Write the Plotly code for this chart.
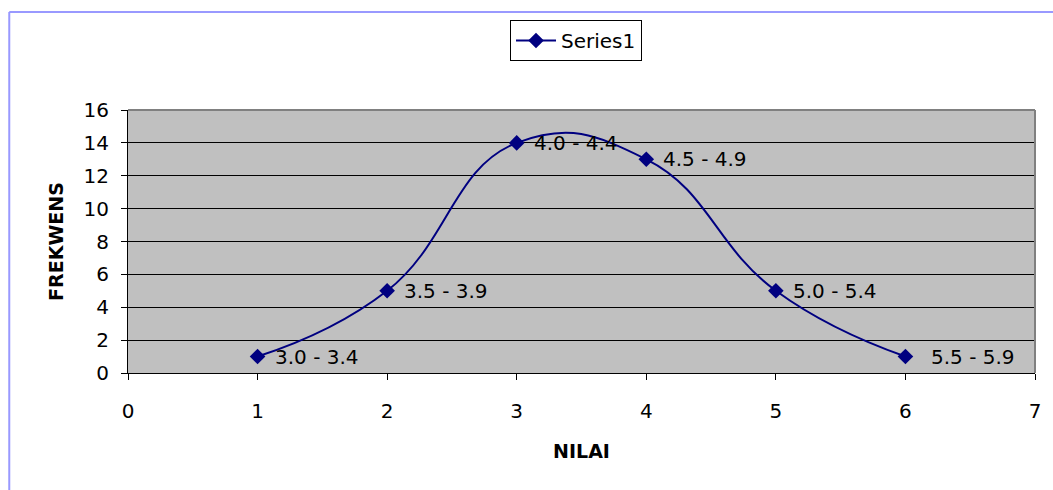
import plotly.graph_objects as go

# Class number, frequency and score interval per class
kelas = [1, 2, 3, 4, 5, 6]
frekwensi = [1, 5, 14, 13, 5, 1]
interval = ["3.0 - 3.4", "3.5 - 3.9", "4.0 - 4.4", "4.5 - 4.9", "5.0 - 5.4", "5.5 - 5.9"]

navy = "#000080"
font = dict(family="DejaVu Sans, Arial, sans-serif", size=20, color="black")
title_font = dict(family="DejaVu Sans, Arial, sans-serif", size=19, color="black")

fig = go.Figure()
fig.add_trace(go.Scatter(
    x=kelas, y=frekwensi, mode="lines+markers", name="Series1",
    line=dict(color=navy, width=2, shape="spline", smoothing=1.3),
    marker=dict(symbol="diamond", size=12, color=navy),
))

# Interval labels to the right of each point
for i, (xv, yv, t) in enumerate(zip(kelas, frekwensi, interval)):
    fig.add_annotation(
        x=xv, y=yv, text=t, showarrow=False, xanchor="left", yanchor="middle",
        xshift=24 if i == len(kelas) - 1 else 15, font=font,
    )

L, R, T, B = 128, 16, 110, 117
W, H = 1053, 490
pw, ph = W - L - R, H - T - B


def px(x):
    return (x - L) / pw


def py(y):
    return (H - B - y) / ph


shapes = [
    # outer chart frame
    dict(type="line", xref="paper", yref="paper", x0=px(9), x1=px(9), y0=py(500), y1=py(12),
         line=dict(color="#9999ff", width=2)),
    dict(type="line", xref="paper", yref="paper", x0=px(9), x1=px(1060), y0=py(12), y1=py(12),
         line=dict(color="#9999ff", width=2)),
    # plot area border (top and right)
    dict(type="line", xref="paper", yref="paper", x0=0, x1=1, y0=1, y1=1,
         line=dict(color="#808080", width=2), layer="above"),
    dict(type="line", xref="paper", yref="paper", x0=1, x1=1, y0=0, y1=1,
         line=dict(color="#808080", width=2), layer="above"),
]

fig.update_layout(
    width=W, height=H,
    margin=dict(l=L, r=R, t=T, b=B),
    paper_bgcolor="white", plot_bgcolor="#C0C0C0",
    font=font,
    showlegend=True,
    legend=dict(
        x=px(577), y=py(20), xanchor="center", yanchor="top",
        bordercolor="black", borderwidth=1, bgcolor="white",
        font=font, itemwidth=40,
    ),
    shapes=shapes,
    xaxis=dict(
        range=[0, 7], dtick=1, tick0=0, showgrid=False, zeroline=False,
        showline=True, linecolor="black", linewidth=1,
        ticks="outside", ticklen=6, tickcolor="black",
        ticklabelstandoff=14,
        title=dict(text="<b>NILAI</b>", font=title_font, standoff=22),
        tickfont=font,
    ),
    yaxis=dict(
        range=[0, 16], dtick=2, tick0=0, showgrid=True, gridcolor="black", gridwidth=1,
        zeroline=False, showline=True, linecolor="black", linewidth=1,
        ticks="outside", ticklen=6, tickcolor="black",
        ticklabelstandoff=8,
        title=dict(text="<b>FREKWENS</b>", font=title_font, standoff=14),
        tickfont=font,
    ),
)

fig.write_html("out.html")
